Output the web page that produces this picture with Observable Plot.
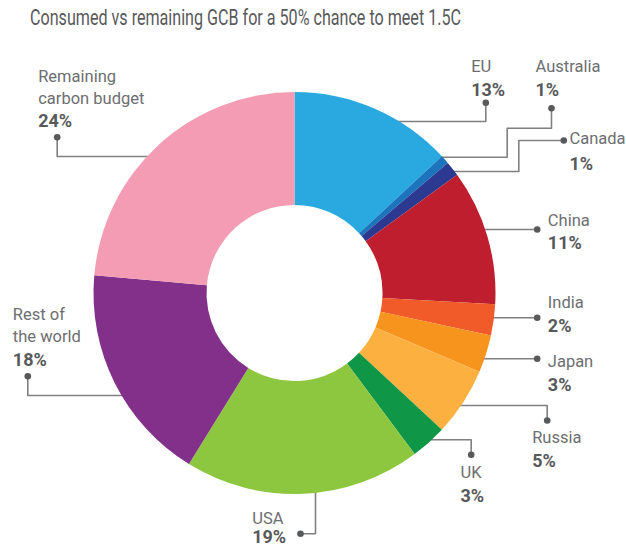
<!DOCTYPE html>
<html>
<head>
<meta charset="utf-8">
<script src="https://cdn.jsdelivr.net/npm/d3@7"></script>
<script src="https://cdn.jsdelivr.net/npm/@observablehq/plot@0.6"></script>
<style>
  html, body { margin: 0; padding: 0; background: #fff; overflow: hidden; }
  #title {
    height: 40px; box-sizing: border-box; padding: 6px 0 0 30px;
    font-family: Roboto, "Liberation Sans", sans-serif;
    font-size: 21.5px; line-height: 24px; color: #58595b; white-space: nowrap;
  }
  #title span { display: inline-block; transform-origin: 0 50%; }
  #chart svg { display: block; }
</style>
</head>
<body>
<div id="title"><span>Consumed vs remaining GCB for a 50% chance to meet 1.5C</span></div>
<div id="chart"></div>
<script>
// ---- data ----
const categories = ["EU", "Australia", "Canada", "China", "India", "Japan", "Russia", "UK", "USA", "Rest of the world", "Remaining carbon budget"];
const shares = [13.1, 0.7, 1.2, 10.9, 2.5, 3.0, 5.5, 2.9, 19.0, 17.6, 23.6];
const shareLabels = ["13%", "1%", "1%", "11%", "2%", "3%", "5%", "3%", "19%", "18%", "24%"];
const nameLabels = ["EU", "Australia", "Canada", "China", "India", "Japan", "Russia", "UK", "USA", "Rest of\nthe world", "Remaining\ncarbon budget"];
const colors = ["#29a9e0", "#1c75bc", "#2b3990", "#be1e2d", "#f15a29", "#f7941d", "#fbb040", "#0f9647", "#8dc63f", "#83308a", "#f49cb3"];

// ---- layout (page pixel coordinates) ----
const center = [294.5, 293];
const outerR = 201, innerR = 88;
const labelX =      [470.7, 535, 569, 547.3, 547.3, 547.3, 531.7, 460, 251.7, 12.3, 37.7];
const nameBase =    [71.7, 71.7, 143.3, 225, 307.7, 366, 442.7, 477.3, 523.3, 341.7, 103.3];
const pctBase =     [95.7, 95.7, 169.3, 248.3, 331.7, 390, 466.7, 501.7, 542.5, 365, 126.7];
const leaders = [
  [[485.3, 102.3], [485.3, 121], [380, 121]],
  [[551, 107.7], [551, 127.7], [506.7, 127.7], [506.7, 156.7], [430, 156.7]],
  [[563.3, 140], [518.3, 140], [518.3, 171], [440, 171]],
  [[536.7, 229], [480, 229]],
  [[536.7, 317.3], [480, 317.3]],
  [[536.7, 358.3], [475, 358.3]],
  [[546.7, 420], [546.7, 405], [450, 405]],
  [[470.7, 454.3], [470.7, 439.3], [425, 439.3]],
  [[300, 533.3], [315, 533.3], [315, 480]],
  [[27.3, 375.7], [27.3, 395], [130, 395]],
  [[56.7, 136.7], [56.7, 156], [165, 156]]
];

const slices = categories.map((c, i) => ({category: c, share: shares[i]}));
const labels = categories.map((c, i) => ({category: c, name: nameLabels[i], pct: shareLabels[i], x: labelX[i], nameY: nameBase[i], pctY: pctBase[i]}));
const leaderPts = leaders.flatMap((pts, i) => pts.map(([x, y]) => ({category: categories[i], x, y})));
const dots = leaders.map((pts, i) => ({category: categories[i], x: pts[0][0], y: pts[0][1]}));

const font = 'Roboto, "Liberation Sans", sans-serif';

function donut(index, scales) {
  const cx = scales.x(center[0]), cy = scales.y(center[1]);
  const rO = scales.x(center[0] + outerR) - cx;
  const rI = scales.x(center[0] + innerR) - cx;
  const pie = d3.pie().sort(null).value(d => d.share);
  const arc = d3.arc().innerRadius(rI).outerRadius(rO);
  const g = d3.create("svg:g").attr("transform", `translate(${cx},${cy})`);
  g.selectAll("path").data(pie(slices)).join("path")
    .attr("d", arc)
    .attr("fill", d => scales.color(d.data.category));
  return g.node();
}

const chart = Plot.plot({
  width: 626,
  height: 506,
  margin: 0,
  x: {type: "linear", domain: [0, 626], range: [0, 626], axis: null},
  y: {type: "linear", domain: [40, 546], range: [0, 506], axis: null},
  color: {domain: categories, range: colors},
  style: {fontFamily: font, background: "#fff"},
  marks: [
    Plot.line(leaderPts, {x: "x", y: "y", z: "category", stroke: "#808080", strokeWidth: 1.6}),
    donut,
    Plot.dot(dots, {x: "x", y: "y", r: 3.3, fill: "#58595b"}),
    Plot.text(labels, {x: "x", y: "nameY", text: "name", textAnchor: "start", lineAnchor: "bottom", lineHeight: 22 / 16.5, fontSize: 16.5, fill: "#6d6e71", fontFamily: font}),
    Plot.text(labels, {x: "x", y: "pctY", text: "pct", textAnchor: "start", lineAnchor: "bottom", fontSize: 18, fontWeight: "bold", fill: "#58595b", fontFamily: font})
  ]
});
document.getElementById("chart").appendChild(chart);

// condensed title: fit to the reference's width
const span = document.querySelector("#title span");
const w = span.getBoundingClientRect().width;
span.style.transform = `scaleX(${431 / w})`;
</script>
</body>
</html>
